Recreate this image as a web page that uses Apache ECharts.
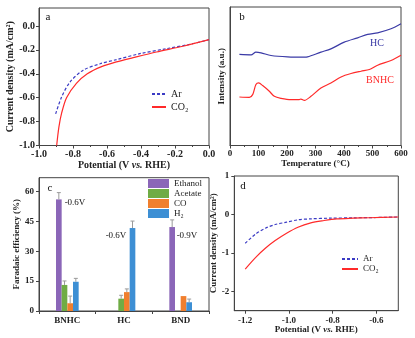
<!DOCTYPE html>
<html>
<head>
<meta charset="utf-8">
<script src="https://cdn.jsdelivr.net/npm/echarts@6/dist/echarts.min.js"></script>
<style>
  html, body { margin: 0; padding: 0; background: #fff; }
  #chart { width: 415px; height: 338px; }
</style>
</head>
<body>
<div id="chart"></div>
<script>
// panel a: LSV, HC electrode
const aArX = [-0.902, -0.867, -0.818, -0.74, -0.64, -0.544, -0.407, -0.25, -0.1, 0]
const aArY = [-0.735, -0.595, -0.47, -0.37, -0.316, -0.282, -0.232, -0.19, -0.15, -0.115]
const aCO2X = [-0.896, -0.883, -0.867, -0.838, -0.78, -0.716, -0.632, -0.544, -0.446, -0.309, -0.153, 0]
const aCO2Y = [-1.0, -0.846, -0.73, -0.6, -0.48, -0.40, -0.34, -0.30, -0.265, -0.218, -0.17, -0.115]

// panel b: TPD (a.u.)
const bHCT = [33, 74, 91, 109, 144, 202, 261, 272, 319, 354, 401, 448, 483, 518, 565, 600]
const bHC = [90.7, 90.3, 93, 92.3, 89.7, 88.3, 88, 88.3, 93, 96.3, 103, 107.3, 110.7, 112.3, 116.3, 121.3]
const bBNHCT = [33, 68, 79.5, 91, 100.6, 114.6, 138, 155.6, 179, 214, 243, 249, 261, 284, 319, 354, 389.5, 424.6, 459.7, 489, 518, 565, 600]
const bBNHC = [48.3, 48, 50.7, 60.7, 62.3, 59.7, 54, 49, 47, 45.7, 45.7, 46.3, 45, 49, 57.3, 62.3, 68.3, 71.7, 74, 75.7, 80, 84.7, 90]

// panel c: Faradaic efficiency
const cCats = ['BNHC', 'HC', 'BND']
const cEthanol = [56.1, 0, 42.2]
const cAcetate = [13.1, 6.2, 0]
const cCO = [3.9, 9.5, 7.5]
const cH2 = [14.7, 41.7, 4.4]
const cEthanolErr = [3.4, 0, 3.6]
const cAcetateErr = [2.0, 1.7, 0]
const cCOErr = [3.6, 1.6, 0]
const cH2Err = [1.7, 3.5, 1.6]

// panel d: LSV, BNHC electrode
const dArX = [-1.2, -1.152, -1.108, -1.063, -1.011, -0.959, -0.9, -0.811, -0.707, -0.6, -0.5]
const dArY = [-0.748, -0.504, -0.357, -0.261, -0.2, -0.139, -0.113, -0.096, -0.087, -0.078, -0.065]
const dCO2X = [-1.2, -1.152, -1.108, -1.063, -1.011, -0.959, -0.9, -0.84, -0.781, -0.707, -0.633, -0.5]
const dCO2Y = [-1.417, -1.113, -0.878, -0.678, -0.487, -0.33, -0.217, -0.157, -0.113, -0.096, -0.085, -0.065]

const aTicksY = [-1, -0.8, -0.6, -0.4, -0.2, 0]
const cTicksY = [0, 15, 30, 45, 60]
const dTicksX = [-1.2, -1.0, -0.8, -0.6]
const dTicksY = [-2, -1, 0, 1]

const FONT = "'Liberation Serif', 'DejaVu Serif', serif"
const AXIS = '#444'
const BLUE = '#3b3bc4'
const NAVY = '#3a3aa6'
const RED = '#ff2a2a'
const BAR_COLORS = ['#8b66b8', '#6fac45', '#f07f2e', '#3d8fd4']

const zip = (xs, ys) => xs.map((x, i) => [x, ys[i]])

const lbl = (size) => ({ color: '#222', fontFamily: FONT, fontWeight: 'bold', fontSize: size })
const nameStyle = (size) => ({
  color: '#222', fontFamily: FONT, fontWeight: 'bold', fontSize: size,
  rich: { i: { fontFamily: FONT, fontWeight: 'bold', fontStyle: 'italic', fontSize: size, color: '#222' } }
})
const line = { show: true, onZero: false, lineStyle: { color: AXIS, width: 1 } }
const tick = (extra) => Object.assign({ show: true, inside: false, length: 3, lineStyle: { color: AXIS } }, extra || {})
const minor = { show: true, splitNumber: 2, length: 1.5, lineStyle: { color: AXIS } }
const grid = (g) => Object.assign({ show: true, borderColor: AXIS, borderWidth: 1, containLabel: false }, g)

function errorBars(idx, vals, errs) {
  return {
    type: 'custom',
    xAxisIndex: 2,
    yAxisIndex: 2,
    z: 5,
    silent: true,
    data: vals.map((v, i) => [i, v, errs[i]]),
    encode: { x: 0, y: 1 },
    renderItem: (params, api) => {
      const i = api.value(0), v = api.value(1), e = api.value(2)
      if (!e) return
      const band = api.size([1, 0])[0]
      const w = band * 0.4 / 4
      const cx = api.coord([i, 0])[0] + (idx - 1.5) * w
      const y0 = api.coord([i, v])[1]
      const y1 = api.coord([i, v + e])[1]
      const st = { stroke: '#9a9a9a', lineWidth: 1 }
      return {
        type: 'group',
        children: [
          { type: 'line', shape: { x1: cx, y1: y0, x2: cx, y2: y1 }, style: st },
          { type: 'line', shape: { x1: cx - 2, y1: y1, x2: cx + 2, y2: y1 }, style: st }
        ]
      }
    }
  }
}

const barNames = ['Ethanol', 'Acetate', 'CO', 'H₂']
const barVals = [cEthanol, cAcetate, cCO, cH2]
const barErrs = [cEthanolErr, cAcetateErr, cCOErr, cH2Err]

const txt = (x, y, text, size, color, extra) => ({
  type: 'text', x: x, y: y, silent: true,
  style: Object.assign({ text: text, fontFamily: FONT, fontSize: size, fill: color || '#111', align: 'center', verticalAlign: 'middle' }, extra || {})
})

const option = {
  animation: false,
  backgroundColor: '#fff',
  grid: [
    grid({ left: 39, top: 8, width: 170, height: 137.5 }),
    grid({ left: 230, top: 7, width: 171, height: 138.5 }),
    grid({ left: 39, top: 177.7, width: 170, height: 133.3 }),
    grid({ left: 234.3, top: 176, width: 164, height: 134.7 })
  ],
  xAxis: [
    {
      gridIndex: 0, type: 'value', min: -1, max: 0, interval: 0.2,
      axisLine: line, axisTick: tick(), minorTick: minor, splitLine: { show: false },
      axisLabel: Object.assign(lbl(10), { margin: 4, formatter: v => v.toFixed(1) }),
      name: 'Potential (V {i|vs.} RHE)', nameLocation: 'middle', nameGap: 13, nameTextStyle: nameStyle(10)
    },
    {
      gridIndex: 1, type: 'value', min: 0, max: 600, interval: 100,
      axisLine: line, axisTick: tick(), minorTick: minor, splitLine: { show: false },
      axisLabel: Object.assign(lbl(9), { margin: 4 }),
      name: 'Temperature (°C)', nameLocation: 'middle', nameGap: 13, nameTextStyle: nameStyle(9)
    },
    {
      gridIndex: 2, type: 'category', data: cCats,
      axisLine: line, axisTick: tick({ alignWithLabel: false }), splitLine: { show: false },
      axisLabel: Object.assign(lbl(9), { margin: 5 })
    },
    {
      gridIndex: 3, type: 'value', min: -1.25, max: -0.5,
      axisLine: line, axisTick: tick({ customValues: dTicksX }), splitLine: { show: false },
      axisLabel: Object.assign(lbl(9), { margin: 5, customValues: dTicksX, formatter: v => v.toFixed(1) }),
      name: 'Potential (V {i|vs.} RHE)', nameLocation: 'middle', nameGap: 13, nameTextStyle: nameStyle(9)
    }
  ],
  yAxis: [
    {
      gridIndex: 0, type: 'value', min: -1, max: 0.15,
      axisLine: line, axisTick: tick({ customValues: aTicksY }), splitLine: { show: false },
      axisLabel: Object.assign(lbl(10), { margin: 4, customValues: aTicksY, formatter: v => v.toFixed(1) }),
      name: 'Current density (mA/cm²)', nameLocation: 'middle', nameGap: 18, nameTextStyle: nameStyle(10)
    },
    {
      gridIndex: 1, type: 'value', min: 0, max: 138,
      axisLine: line, axisTick: { show: false }, axisLabel: { show: false }, splitLine: { show: false },
      name: 'Intensity (a.u.)', nameLocation: 'middle', nameGap: 4, nameTextStyle: nameStyle(9)
    },
    {
      gridIndex: 2, type: 'value', min: 0, max: 67,
      axisLine: line, axisTick: tick({ customValues: cTicksY }), splitLine: { show: false },
      axisLabel: Object.assign(lbl(9), { margin: 5, customValues: cTicksY }),
      name: 'Faradaic efficiency (%)', nameLocation: 'middle', nameGap: 11, nameTextStyle: nameStyle(9)
    },
    {
      gridIndex: 3, type: 'value', min: -2.5, max: 1,
      axisLine: line, axisTick: tick({ customValues: dTicksY }), splitLine: { show: false },
      axisLabel: Object.assign(lbl(9), { margin: 5, customValues: dTicksY }),
      name: 'Current density (mA/cm²)', nameLocation: 'middle', nameGap: 10, nameTextStyle: nameStyle(9)
    }
  ],
  legend: [
    {
      left: 151, top: 88, padding: 0, orient: 'vertical', itemWidth: 14, itemHeight: 8, itemGap: 1,
      data: ['Ar', 'CO₂'], selectedMode: false, itemStyle: { opacity: 0 },
      textStyle: { fontFamily: FONT, fontSize: 10, color: '#222', lineHeight: 12 }
    },
    {
      left: 148, top: 179, padding: 0, orient: 'vertical', itemWidth: 21, itemHeight: 9, itemGap: 1,
      data: barNames, selectedMode: false, icon: 'rect',
      textStyle: { fontFamily: FONT, fontSize: 9, color: '#222', lineHeight: 9 }
    },
    {
      left: 341, top: 254, padding: 0, orient: 'vertical', itemWidth: 16, itemHeight: 8, itemGap: 0,
      data: ['Ar', 'CO₂'], selectedMode: false, itemStyle: { opacity: 0 },
      textStyle: { fontFamily: FONT, fontSize: 9, color: '#222', lineHeight: 10 }
    }
  ],
  series: [
    { name: 'Ar', type: 'line', xAxisIndex: 0, yAxisIndex: 0, data: zip(aArX, aArY), smooth: 0.3, symbol: 'none',
      lineStyle: { color: BLUE, width: 1.2, type: [3, 2] }, itemStyle: { color: BLUE } },
    { name: 'CO₂', type: 'line', xAxisIndex: 0, yAxisIndex: 0, data: zip(aCO2X, aCO2Y), smooth: 0.3, symbol: 'none',
      lineStyle: { color: RED, width: 1.2 }, itemStyle: { color: RED } },
    { name: 'HC', type: 'line', xAxisIndex: 1, yAxisIndex: 1, data: zip(bHCT, bHC), smooth: 0.3, symbol: 'none',
      lineStyle: { color: NAVY, width: 1.2 } },
    { name: 'BNHC', type: 'line', xAxisIndex: 1, yAxisIndex: 1, data: zip(bBNHCT, bBNHC), smooth: 0.3, symbol: 'none',
      lineStyle: { color: RED, width: 1.2 } },
    ...barNames.map((n, k) => ({
      name: n, type: 'bar', xAxisIndex: 2, yAxisIndex: 2, data: barVals[k],
      barGap: '0%', barCategoryGap: '60%', itemStyle: { color: BAR_COLORS[k] }
    })),
    ...barNames.map((n, k) => errorBars(k, barVals[k], barErrs[k])),
    { name: 'Ar', type: 'line', xAxisIndex: 3, yAxisIndex: 3, data: zip(dArX, dArY), smooth: 0.3, symbol: 'none',
      lineStyle: { color: BLUE, width: 1.2, type: [3, 2] }, itemStyle: { color: BLUE } },
    { name: 'CO₂', type: 'line', xAxisIndex: 3, yAxisIndex: 3, data: zip(dCO2X, dCO2Y), smooth: 0.3, symbol: 'none',
      lineStyle: { color: RED, width: 1.2 }, itemStyle: { color: RED } }
  ],
  graphic: [
    txt(48, 17, 'a', 11),
    txt(242, 17, 'b', 11),
    txt(50, 188, 'c', 11),
    txt(243, 186, 'd', 11),
    txt(377, 43, 'HC', 10, NAVY),
    txt(380, 80, 'BNHC', 10, RED),
    txt(75, 203, '-0.6V', 9),
    txt(116, 236, '-0.6V', 9),
    txt(187, 236, '-0.9V', 9)
  ]
}

const chart = echarts.init(document.getElementById('chart'), null, { renderer: 'canvas' })
chart.setOption(option)
</script>
</body>
</html>
